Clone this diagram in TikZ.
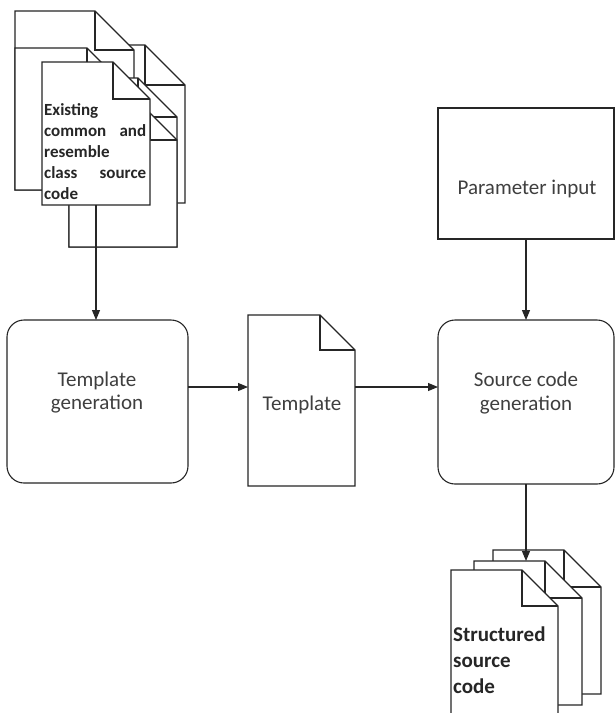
\documentclass[tikz,border=0pt]{standalone}
\usepackage{fontspec}
\setmainfont{Carlito}
\usetikzlibrary{arrows.meta}
\definecolor{linec}{HTML}{262626}
\definecolor{txtc}{HTML}{3F3F3F}
\newcommand\docoutline[2]{%
  \filldraw[docline] (#1.north west) -- ([xshift=-#2pt]#1.north east) -- ([yshift=-#2pt]#1.north east) -- (#1.south east) -- (#1.south west) -- cycle;
  \draw[docline,fill=none] ([xshift=-#2pt]#1.north east) |- ([yshift=-#2pt]#1.north east);
}
\tikzset{
  docline/.style={draw=linec, line width=1.1pt, fill=white, line join=miter},
  docbox/.style={draw=none, rectangle, inner sep=0pt, outer sep=0pt},
  procbox/.style={draw=linec, line width=1.1pt, rectangle, rounded corners=17pt, inner sep=0pt, outer sep=0pt, fill=white},
  plainbox/.style={draw=linec, line width=1.1pt, rectangle, inner sep=0pt, outer sep=0pt, fill=white},
  lbl/.style={text=txtc, align=center, inner sep=0pt, font=\fontsize{21}{23.5}\selectfont},
  btxt/.style={text=black!85, inner sep=0pt, anchor=base west, font=\fontsize{17}{21}\selectfont\bfseries},
  btxtb/.style={text=black!85, inner sep=0pt, anchor=base west, font=\fontsize{21}{26}\selectfont\bfseries},
  arr/.style={draw=linec, line width=1.1pt, -{Triangle[length=10pt,width=8pt]}},
}
\begin{document}
\begin{tikzpicture}[x=1pt,y=-1pt]
\useasboundingbox (0,0) rectangle (615,713);
\clip (0,0) rectangle (615,713);
\fill[white] (0,0) rectangle (615,713);

% top-left cluster of documents (back to front)
\node[docbox, minimum width=120pt, minimum height=158pt] (D) at (125,124) {};
\docoutline{D}{40}
\node[docbox, minimum width=119pt, minimum height=179pt] (A) at (74.5,100.5) {};
\docoutline{A}{39}
\node[docbox, minimum width=108pt, minimum height=169pt] (E) at (123,162.5) {};
\docoutline{E}{39}
\node[docbox, minimum width=108pt, minimum height=134pt] (F) at (123,180) {};
\docoutline{F}{27}
\node[docbox, minimum width=111pt, minimum height=142pt] (B) at (70.5,119) {};
\docoutline{B}{39}
\node[docbox, minimum width=108pt, minimum height=143pt] (C) at (96,133.5) {};
\docoutline{C}{37}
\node[btxt] (c1) at (44,115) {Existing};
\node[btxt] (c2) at (44,136) {\makebox[102pt][s]{common and}};
\node[btxt] (c3) at (44,157) {resemble};
\node[btxt] (c4) at (44,178) {\makebox[102pt][s]{class source}};
\node[btxt] (c5) at (44,199) {code};

% process boxes
\node[procbox, minimum width=181pt, minimum height=163pt] (tgen) at (97.5,401.5) {};
\node[lbl] (tgenT) at (97,392.5) {Template\\generation};

\node[docbox, minimum width=107pt, minimum height=171pt] (tdoc) at (301.5,400.5) {};
\docoutline{tdoc}{35}
\node[lbl] (tdocT) at (302,405) {Template};

\node[procbox, minimum width=176pt, minimum height=164pt] (sgen) at (526,402) {};
\node[lbl] (sgenT) at (526,393) {Source code\\generation};

\node[plainbox, minimum width=176pt, minimum height=131pt] (param) at (526,173.5) {};
\node[lbl] (paramT) at (527,189) {Parameter input};

% bottom-right stack of documents
\node[docbox, minimum width=108pt, minimum height=144pt] (Bk) at (547,622) {};
\docoutline{Bk}{37}
\node[docbox, minimum width=108pt, minimum height=144pt] (M) at (528,633) {};
\docoutline{M}{37}
\node[docbox, minimum width=107pt, minimum height=146pt] (Fr) at (504.5,643) {};
\docoutline{Fr}{36}
\node[btxtb] (s1) at (453,641) {Structured};
\node[btxtb] (s2) at (453,667) {source};
\node[btxtb] (s3) at (453,693) {code};

% connectors
\coordinate (ay) at (0,387);
\draw[arr] (C.south) -- (C.south |- tgen.north);
\draw[arr] (tgen.east |- ay) -- (tdoc.west |- ay);
\draw[arr] (tdoc.east |- ay) -- (sgen.west |- ay);
\draw[arr] (param.south) -- (param.south |- sgen.north);
\draw[arr] (sgen.south) -- (sgen.south |- M.north);
\end{tikzpicture}
\end{document}
